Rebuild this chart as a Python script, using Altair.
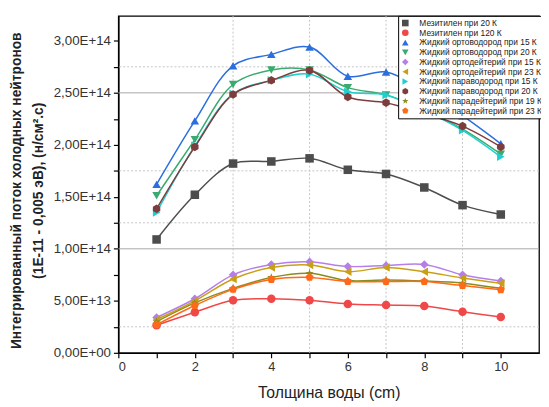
import altair as alt
import pandas as pd

thickness = [1, 2, 3, 4, 5, 6, 7, 8, 9, 10]

series_names = [
    "Мезитилен при 20 К",
    "Мезитилен при 120 К",
    "Жидкий ортоводород при 15 К",
    "Жидкий ортоводород при 20 К",
    "Жидкий ортодейтерий при 15 К",
    "Жидкий ортодейтерий при 23 К",
    "Жидкий параводород при 15 К",
    "Жидкий параводород при 20 К",
    "Жидкий парадейтерий при 19 К",
    "Жидкий парадейтерий при 23 К",
]

mes_20 = [1.09e14, 1.52e14, 1.82e14, 1.84e14, 1.87e14, 1.76e14, 1.72e14, 1.59e14, 1.42e14, 1.33e14]
mes_120 = [2.65e13, 3.9e13, 5.05e13, 5.2e13, 5.05e13, 4.7e13, 4.6e13, 4.5e13, 3.95e13, 3.45e13]
oh2_15 = [1.62e14, 2.23e14, 2.76e14, 2.87e14, 2.94e14, 2.66e14, 2.70e14, 2.52e14, 2.28e14, 2.01e14]
oh2_20 = [1.51e14, 2.05e14, 2.58e14, 2.72e14, 2.72e14, 2.55e14, 2.48e14, 2.33e14, 2.15e14, 1.91e14]
od2_15 = [3.4e13, 5.2e13, 7.5e13, 8.5e13, 8.75e13, 8.3e13, 8.4e13, 8.5e13, 7.5e13, 6.9e13]
od2_23 = [3.2e13, 5.0e13, 7.1e13, 8.2e13, 8.45e13, 7.8e13, 8.2e13, 7.8e13, 7.2e13, 6.7e13]
ph2_15 = [1.35e14, 1.99e14, 2.49e14, 2.62e14, 2.68e14, 2.51e14, 2.48e14, 2.33e14, 2.14e14, 1.885e14]
ph2_20 = [1.385e14, 1.98e14, 2.485e14, 2.62e14, 2.715e14, 2.46e14, 2.405e14, 2.30e14, 2.18e14, 1.98e14]
pd2_19 = [3.0e13, 4.8e13, 6.2e13, 7.25e13, 7.65e13, 6.95e13, 7.0e13, 6.9e13, 6.7e13, 6.2e13]
pd2_23 = [2.7e13, 4.55e13, 6.1e13, 7.05e13, 7.25e13, 6.85e13, 6.85e13, 6.85e13, 6.47e13, 6.06e13]

series_values = [mes_20, mes_120, oh2_15, oh2_20, od2_15, od2_23, ph2_15, ph2_20, pd2_19, pd2_23]

colors = ["#4d4d4d", "#f04848", "#2a6ee0", "#3aab6e", "#b57ee8",
          "#c9a015", "#1ecfcf", "#7d3d3d", "#8c8c1c", "#ff6a1a"]
star = "M0,-1L0.235,-0.324L0.951,-0.309L0.38,0.124L0.588,0.809L0,0.4L-0.588,0.809L-0.38,0.124L-0.951,-0.309L-0.235,-0.324Z"
pentagon = "M0,-1L0.951,-0.309L0.588,0.809L-0.588,0.809L-0.951,-0.309Z"
hexagon = "M0,-1L0.866,-0.5L0.866,0.5L0,1L-0.866,0.5L-0.866,-0.5Z"
shapes = ["square", "circle", "triangle-up", "triangle-down", "diamond",
          "triangle-left", "triangle-right", hexagon, star, pentagon]

x_ticks = list(range(0, 11))
y_ticks = [i * 2.5e13 for i in range(13)]
y_major = [0, 5e13, 1e14, 1.5e14, 2e14, 2.5e14, 3e14]
y_labels = ["0,00E+00", "5,00E+13", "1,00E+14", "1,50E+14", "2,00E+14", "2,50E+14", "3,00E+14"]

grid_solid_y = [1e14, 2.5e14]
grid_dotted_y = [2.5e13, 1.25e14, 1.75e14, 2.75e14]
grid_dotted_x = [3, 5, 7, 9]

rows = []
for name, vals in zip(series_names, series_values):
    for xv, yv in zip(thickness, vals):
        rows.append({"x": xv, "y": yv, "series": name})
df = pd.DataFrame(rows)

y_expr = " : ".join(f"datum.value == {v} ? '{l}'" for v, l in zip(y_major, y_labels)) + " : ''"

font = "Liberation Sans"

x_enc = alt.X("x:Q",
              scale=alt.Scale(domain=[0, 11], nice=False, zero=False),
              axis=alt.Axis(values=x_ticks, labelExpr="datum.value % 2 == 0 ? datum.value : ''",
                            title="Толщина воды (cm)", grid=False, tickSize=5,
                            labelFontSize=13, labelPadding=3, titleFontSize=16,
                            titleFontWeight="normal", titlePadding=11))
y_enc = alt.Y("y:Q",
              scale=alt.Scale(domain=[0, 3.24e14], nice=False, zero=True),
              axis=alt.Axis(values=y_ticks, labelExpr=y_expr,
                            title=["Интегрированный поток холодных нейтронов",
                                   "(1E-11 - 0,005 эВ), (н/см².с)"],
                            grid=False, tickSize=5, labelFontSize=13.5, labelPadding=3,
                            titleFontSize=14, titleFontWeight="bold",
                            titleLineHeight=22, titleX=-110, titleY=177,
                            titleBaseline="top", titleAngle=270, titleAlign="center"))

solid = alt.Chart(pd.DataFrame({"y": grid_solid_y})).mark_rule(
    color="#a8a8a8", strokeWidth=1).encode(y=y_enc)
dotted_h = alt.Chart(pd.DataFrame({"y": grid_dotted_y})).mark_rule(
    color="#c4c4c4", strokeWidth=1, strokeDash=[2, 2]).encode(y=y_enc)
dotted_v = alt.Chart(pd.DataFrame({"x": grid_dotted_x})).mark_rule(
    color="#c4c4c4", strokeWidth=1, strokeDash=[2, 2]).encode(x=x_enc)

color_scale = alt.Scale(domain=series_names, range=colors)
shape_scale = alt.Scale(domain=series_names, range=shapes)

legend = alt.Legend(title=None, orient="none", legendX=284, legendY=0,
                    labelFontSize=8.5, symbolSize=45, rowPadding=0.9,
                    strokeColor="black", fillColor="white", padding=3,
                    labelLimit=300, symbolStrokeWidth=0, labelColor="#222",
                    labelOffset=10, symbolType="circle")

lines = alt.Chart(df).mark_line(interpolate="catmull-rom", strokeWidth=1.5).encode(
    x=x_enc, y=y_enc,
    color=alt.Color("series:N", scale=color_scale, legend=legend),
)

points = alt.Chart(df).mark_point(filled=True, size=75, opacity=1).encode(
    x=x_enc, y=y_enc,
    color=alt.Color("series:N", scale=color_scale, legend=legend),
    shape=alt.Shape("series:N", scale=shape_scale, legend=legend),
)

chart = alt.layer(solid, dotted_h, dotted_v, lines, points).properties(
    width=427, height=342,
    autosize=alt.AutoSizeParams(type="none"),
    padding={"left": 112, "top": 5, "right": 2, "bottom": 52},
).configure(font=font).configure_view(
    stroke="black", strokeWidth=1.3
).configure_axis(
    labelFont=font, titleFont=font, labelColor="#333", titleColor="#222",
    domainColor="black", tickColor="black", domainWidth=1.5, tickWidth=1.2
).configure_legend(labelFont=font)

chart.save("out.html", embed_options={"renderer": "svg", "actions": False})
